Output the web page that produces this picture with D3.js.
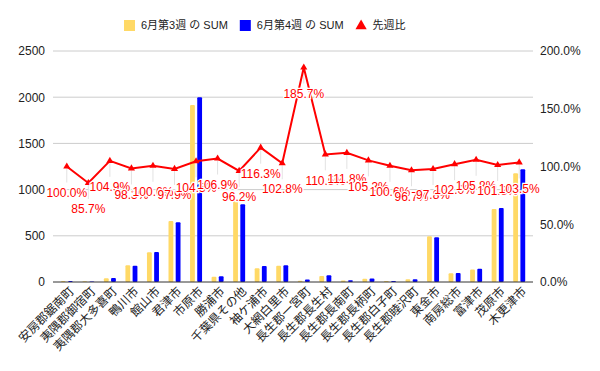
<!DOCTYPE html>
<html>
<head>
<meta charset="utf-8">
<script src="https://cdn.jsdelivr.net/npm/d3@7"></script>
<style>
  body { margin: 0; background: #fff; }
  text { font-family: "Liberation Sans", Arial, "Noto Sans CJK JP", sans-serif; }
</style>
</head>
<body>
<div id="chart"></div>
<script>
// data
const cities = ["安房郡鋸南町", "夷隅郡御宿町", "夷隅郡大多喜町", "鴨川市", "館山市", "君津市", "市原市", "勝浦市",
  "千葉県その他", "袖ケ浦市", "大網白里市", "長生郡一宮町", "長生郡長生村", "長生郡長南町", "長生郡長柄町",
  "長生郡白子町", "長生郡睦沢町", "東金市", "南房総市", "富津市", "茂原市", "木更津市"];
const week3 = [10, 7, 41, 180, 322, 660, 1915, 58, 875, 148, 176, 14, 65, 17, 36, 12, 30, 495, 95, 135, 790, 1178];
const week4 = [10, 6, 43, 177, 324, 646, 2000, 62, 842, 172, 181, 26, 72, 19, 38, 12, 29, 484, 97, 143, 800, 1219];
const ratio = [1.000, 0.857, 1.049, 0.983, 1.006, 0.979, 1.045, 1.069, 0.962, 1.163, 1.028, 1.857, 1.105, 1.118,
  1.053, 1.006, 0.967, 0.978, 1.020, 1.058, 1.013, 1.035];
const leftTicks = [0, 500, 1000, 1500, 2000, 2500];
const rightTicks = [0, 0.5, 1, 1.5, 2];
const seriesNames = ["6月第3週 の SUM", "6月第4週 の SUM", "先週比"];
const colors = ["#ffd966", "#0000ff", "#ff0000"];

const W = 600, H = 371;
const plot = { left: 53, right: 533, top: 51, bottom: 282 };
const pct = d3.format(".1%");

const svg = d3.select("#chart").append("svg")
  .attr("width", W)
  .attr("height", H);

// scales
const x = d3.scalePoint().domain(cities).range([plot.left, plot.right]).padding(0.64);
const sub = d3.scaleBand().domain(["w3", "w4"]).range([-6, 6]).paddingInner(0.33);
const yL = d3.scaleLinear().domain([0, 2500]).range([plot.bottom, plot.top]);
const yR = d3.scaleLinear().domain([0, 2]).range([plot.bottom, plot.top]);

// gridlines
svg.append("g").selectAll("line")
  .data(leftTicks.filter(d => d > 0))
  .join("line")
  .attr("x1", plot.left).attr("x2", plot.right)
  .attr("y1", d => yL(d)).attr("y2", d => yL(d))
  .attr("stroke", "#cccccc");

// left axis
const gL = svg.append("g")
  .attr("transform", `translate(${plot.left},0)`)
  .call(d3.axisLeft(yL).tickValues(leftTicks).tickFormat(d3.format("d")).tickSize(0).tickPadding(8));
gL.select(".domain").remove();
gL.selectAll("text").style("font-size", "12px").attr("fill", "#222");

// right axis
const gR = svg.append("g")
  .attr("transform", `translate(${plot.right},0)`)
  .call(d3.axisRight(yR).tickValues(rightTicks).tickFormat(pct).tickSize(0).tickPadding(7));
gR.select(".domain").remove();
gR.selectAll("text").style("font-size", "12px").attr("fill", "#222");

// bars
const groups = svg.append("g").selectAll("g")
  .data(cities)
  .join("g")
  .attr("transform", d => `translate(${x(d)},0)`);

groups.append("rect")
  .attr("x", sub("w3"))
  .attr("width", sub.bandwidth())
  .attr("y", (d, i) => yL(week3[i]))
  .attr("height", (d, i) => yL(0) - yL(week3[i]))
  .attr("rx", 1)
  .attr("fill", colors[0]);

groups.append("rect")
  .attr("x", sub("w4"))
  .attr("width", sub.bandwidth())
  .attr("y", (d, i) => yL(week4[i]))
  .attr("height", (d, i) => yL(0) - yL(week4[i]))
  .attr("rx", 1)
  .attr("fill", colors[1]);

// baseline
svg.append("line")
  .attr("x1", plot.left).attr("x2", plot.right)
  .attr("y1", yL(0)).attr("y2", yL(0))
  .attr("stroke", "#333");

// annotation stems
svg.append("g").selectAll("line")
  .data(ratio)
  .join("line")
  .attr("x1", (d, i) => x(cities[i])).attr("x2", (d, i) => x(cities[i]))
  .attr("y1", d => yR(d) + 2).attr("y2", d => yR(d) + 16)
  .attr("stroke", "#e2e2e2");

// ratio line
svg.append("path")
  .datum(ratio)
  .attr("fill", "none")
  .attr("stroke", colors[2])
  .attr("stroke-width", 2)
  .attr("d", d3.line()
    .x((d, i) => x(cities[i]))
    .y(d => yR(d)));

svg.append("g").selectAll("path")
  .data(ratio)
  .join("path")
  .attr("transform", (d, i) => `translate(${x(cities[i])},${yR(d)})`)
  .attr("d", d3.symbol().type(d3.symbolTriangle).size(22))
  .attr("fill", colors[2]);

// ratio labels
svg.append("g").selectAll("text")
  .data(ratio)
  .join("text")
  .attr("x", (d, i) => x(cities[i]))
  .attr("y", d => yR(d) + 26)
  .attr("dy", "0.35em")
  .attr("text-anchor", "middle")
  .style("font-size", "12px")
  .attr("fill", colors[2])
  .attr("stroke", "#fff")
  .attr("stroke-width", 2.5)
  .attr("paint-order", "stroke")
  .text(d => pct(d));

// x labels
svg.append("g").selectAll("text")
  .data(cities)
  .join("text")
  .attr("transform", d => `translate(${x(d) + 5},289) rotate(-45)`)
  .attr("text-anchor", "end")
  .attr("dy", "0.35em")
  .style("font-size", "12px")
  .attr("fill", "#222")
  .text(d => d);

// legend
const legend = svg.append("g").attr("transform", "translate(124,25.5)");
let lx = 0;
seriesNames.forEach(function(name, i) {
  if (i < 2) {
    legend.append("rect").attr("x", lx).attr("y", -5.5).attr("width", 11).attr("height", 11).attr("fill", colors[i]);
  } else {
    legend.append("path")
      .attr("transform", `translate(${lx + 5.5},0.5)`)
      .attr("d", d3.symbol().type(d3.symbolTriangle).size(55))
      .attr("fill", colors[i]);
  }
  const t = legend.append("text")
    .attr("x", lx + 17)
    .attr("dy", "0.35em")
    .style("font-size", "11px")
    .attr("fill", "#222")
    .text(name);
  lx += 17 + t.node().getComputedTextLength() + 12;
});
</script>
</body>
</html>
